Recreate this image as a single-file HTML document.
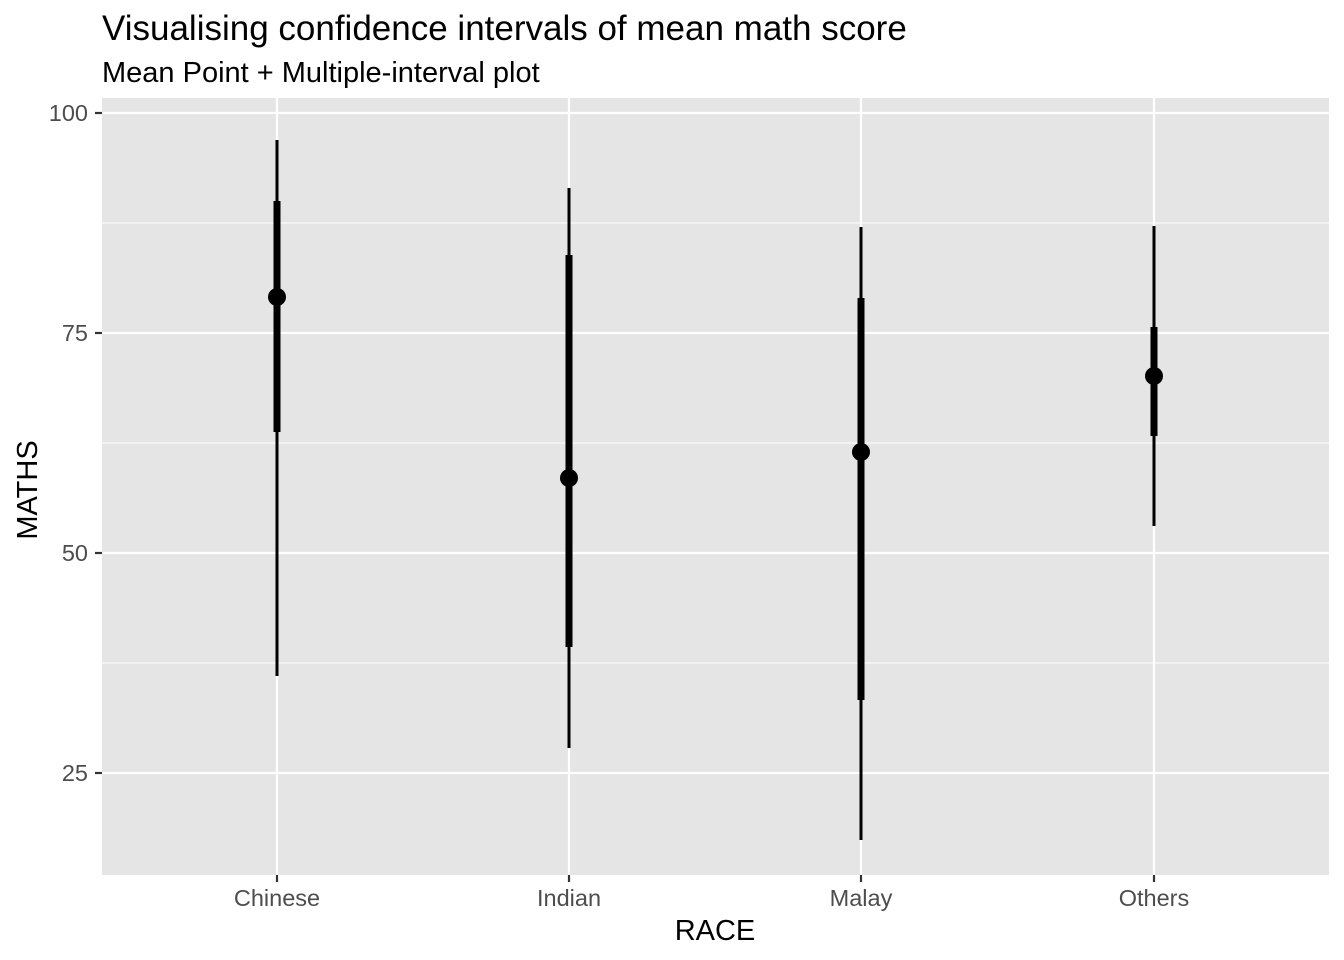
<!DOCTYPE html>
<html><head><style>body{margin:0;background:#fff}svg{display:block}</style></head>
<body>
<svg width="1344" height="960" xmlns="http://www.w3.org/2000/svg" font-family="Liberation Sans, sans-serif">
<rect width="1344" height="960" fill="#fff"/>
<text x="102" y="40" font-size="35" fill="#000">Visualising confidence intervals of mean math score</text>
<text x="102" y="82" font-size="29" fill="#000">Mean Point + Multiple-interval plot</text>
<rect x="102" y="98" width="1227" height="777" fill="#e5e5e5"/>
<g stroke="#fff" stroke-width="1.1">
<line x1="102" x2="1329" y1="223" y2="223"/><line x1="102" x2="1329" y1="443" y2="443"/><line x1="102" x2="1329" y1="663" y2="663"/>
</g>
<g stroke="#fff" stroke-width="2.2">
<line x1="102" x2="1329" y1="113" y2="113"/><line x1="102" x2="1329" y1="333" y2="333"/><line x1="102" x2="1329" y1="553" y2="553"/><line x1="102" x2="1329" y1="773" y2="773"/>
<line x1="277" x2="277" y1="98" y2="875"/><line x1="569" x2="569" y1="98" y2="875"/><line x1="861" x2="861" y1="98" y2="875"/><line x1="1154" x2="1154" y1="98" y2="875"/>
</g>
<g stroke="#333" stroke-width="2.2">
<line x1="95" x2="102" y1="113" y2="113"/><line x1="95" x2="102" y1="333" y2="333"/><line x1="95" x2="102" y1="553" y2="553"/><line x1="95" x2="102" y1="773" y2="773"/>
<line x1="277" x2="277" y1="875" y2="882"/><line x1="569" x2="569" y1="875" y2="882"/><line x1="861" x2="861" y1="875" y2="882"/><line x1="1154" x2="1154" y1="875" y2="882"/>
</g>
<g font-size="23.5" fill="#4d4d4d" text-anchor="end">
<text x="88" y="121">100</text><text x="88" y="341">75</text><text x="88" y="561">50</text><text x="88" y="781">25</text>
</g>
<g font-size="23.5" fill="#4d4d4d" text-anchor="middle">
<text x="277" y="906">Chinese</text><text x="569" y="906">Indian</text><text x="861" y="906">Malay</text><text x="1154" y="906">Others</text>
</g>
<text x="715" y="940" font-size="29" text-anchor="middle">RACE</text>
<text transform="translate(37,490) rotate(-90)" font-size="29" text-anchor="middle">MATHS</text>
<g stroke="#000">
<line x1="277" x2="277" y1="140" y2="676" stroke-width="3"/><line x1="277" x2="277" y1="201" y2="432" stroke-width="7"/>
<line x1="569" x2="569" y1="188" y2="748" stroke-width="3"/><line x1="569" x2="569" y1="255" y2="647" stroke-width="7"/>
<line x1="861" x2="861" y1="227" y2="840" stroke-width="3"/><line x1="861" x2="861" y1="298" y2="700" stroke-width="7"/>
<line x1="1154" x2="1154" y1="226" y2="526" stroke-width="3"/><line x1="1154" x2="1154" y1="327" y2="436" stroke-width="7"/>
</g>
<g fill="#000">
<circle cx="277" cy="297" r="9"/><circle cx="569" cy="478" r="9"/><circle cx="861" cy="452" r="9"/><circle cx="1154" cy="376" r="9"/>
</g>
</svg>
</body></html>
